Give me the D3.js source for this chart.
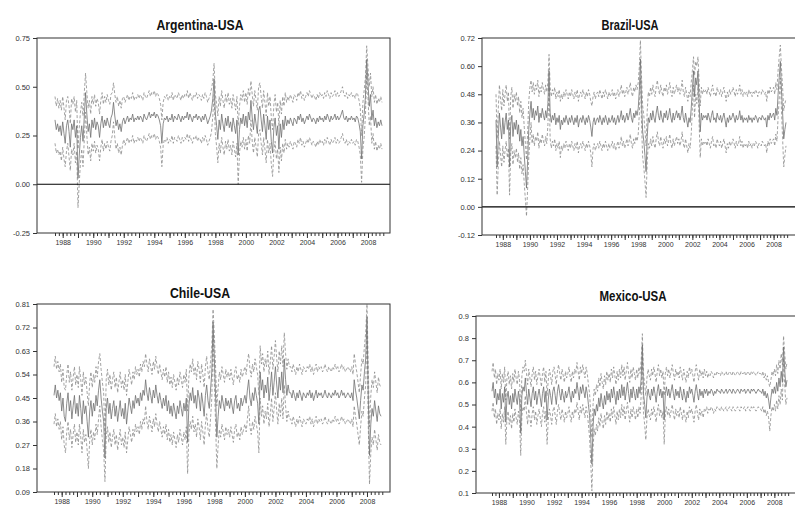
<!DOCTYPE html>
<html>
<head>
<meta charset="utf-8">
<script src="https://cdn.jsdelivr.net/npm/d3@7"></script>
<style>
  body { margin: 0; background: #fff; }
  svg { display: block; }
  .title { font-family: "Liberation Sans", Arial, sans-serif; font-weight: bold; font-size: 15px; fill: #111; }
</style>
</head>
<body>
<div id="chart"></div>
<script>
// monthly observations 1987M07 .. 2008M12, one line per year
const months = d3.timeMonth.range(new Date(1987, 6, 1), new Date(2009, 0, 1));

// Argentina-USA: estimate (solid) and half width of the band (dashed = mid +/- half)
const argMid = [
  .33,.28,.31,.27,.30,.25,
  .32,.26,.21,.30,.33,.27,.19,.31,.28,.33,.24,.30,
  .03,.15,.24,.30,.22,.35,.47,.36,.27,.31,.24,.33,
  .29,.34,.28,.32,.30,.24,.31,.35,.29,.33,.30,.34,
  .31,.29,.34,.36,.42,.35,.30,.33,.28,.31,.27,.32,
  .34,.31,.33,.35,.32,.34,.33,.36,.32,.34,.33,.35,
  .33,.35,.34,.32,.36,.34,.33,.35,.37,.34,.36,.35,
  .37,.34,.36,.35,.33,.30,.21,.31,.34,.33,.35,.32,
  .34,.33,.36,.32,.35,.34,.33,.36,.34,.32,.35,.33,
  .35,.34,.37,.33,.36,.34,.32,.35,.34,.36,.33,.35,
  .34,.32,.35,.33,.36,.34,.31,.33,.35,.38,.44,.54,
  .36,.30,.23,.33,.28,.36,.31,.27,.34,.30,.35,.29,
  .32,.27,.34,.30,.26,.33,.15,.28,.34,.31,.36,.30,
  .35,.29,.37,.33,.43,.34,.28,.36,.31,.26,.38,.40,
  .33,.27,.36,.30,.23,.35,.28,.33,.22,.16,.29,.34,
  .25,.30,.18,.31,.24,.33,.28,.35,.30,.33,.31,.34,
  .32,.30,.34,.33,.31,.35,.33,.36,.32,.34,.31,.33,
  .35,.33,.36,.34,.32,.34,.33,.31,.34,.32,.35,.33,
  .34,.32,.35,.33,.36,.34,.32,.35,.33,.34,.36,.33,
  .35,.33,.34,.36,.38,.34,.33,.35,.32,.34,.33,.35,
  .33,.34,.32,.35,.34,.31,.27,.13,.30,.36,.45,.64,
  .52,.40,.46,.33,.38,.30,.34,.29,.32,.30,.33,.30
];
const argHalf = [
  .12,.12,.13,.12,.13,.13,
  .13,.13,.12,.13,.12,.13,.12,.13,.13,.12,.13,.13,
  .15,.14,.13,.12,.13,.12,.10,.11,.12,.12,.12,.12,
  .12,.12,.12,.12,.12,.12,.12,.12,.12,.12,.12,.12,
  .12,.12,.12,.11,.10,.11,.12,.12,.12,.12,.12,.12,
  .11,.11,.11,.11,.11,.11,.11,.11,.11,.11,.11,.11,
  .11,.11,.11,.11,.11,.11,.11,.11,.11,.11,.11,.11,
  .11,.11,.11,.11,.11,.11,.12,.11,.11,.11,.11,.11,
  .11,.11,.11,.11,.11,.11,.11,.11,.11,.11,.11,.11,
  .11,.11,.11,.11,.11,.11,.11,.11,.11,.11,.11,.11,
  .11,.11,.11,.11,.11,.11,.11,.11,.11,.11,.09,.08,
  .10,.11,.12,.12,.12,.12,.12,.12,.12,.12,.12,.12,
  .12,.12,.12,.12,.12,.12,.15,.12,.12,.12,.12,.12,
  .12,.12,.12,.12,.10,.12,.12,.12,.12,.12,.12,.12,
  .12,.12,.12,.12,.12,.12,.12,.12,.12,.12,.12,.12,
  .12,.12,.12,.12,.12,.12,.12,.12,.12,.12,.12,.12,
  .12,.12,.12,.12,.12,.12,.12,.12,.12,.12,.12,.12,
  .12,.12,.12,.12,.12,.12,.12,.12,.12,.12,.12,.12,
  .12,.12,.12,.12,.12,.12,.12,.12,.12,.12,.12,.12,
  .12,.12,.12,.12,.12,.12,.12,.12,.12,.12,.12,.12,
  .12,.12,.12,.12,.12,.12,.12,.12,.12,.12,.10,.07,
  .08,.10,.11,.12,.12,.12,.12,.12,.12,.12,.12,.12
];

// Brazil-USA
const braMid = [
  .37,.17,.30,.40,.34,.29,
  .38,.31,.36,.40,.33,.37,.17,.35,.39,.30,.36,.33,
  .37,.31,.35,.28,.33,.26,.30,.22,.15,.08,.20,.33,
  .40,.45,.38,.42,.37,.41,.39,.43,.36,.40,.38,.42,
  .39,.37,.41,.38,.44,.58,.40,.36,.39,.37,.40,.35,
  .38,.36,.39,.33,.37,.35,.38,.36,.39,.37,.35,.38,
  .36,.39,.37,.35,.38,.36,.39,.34,.37,.38,.36,.39,
  .37,.35,.38,.36,.39,.37,.34,.30,.36,.38,.35,.37,
  .38,.36,.39,.37,.35,.38,.36,.39,.37,.35,.38,.36,
  .37,.39,.36,.38,.35,.37,.39,.36,.38,.41,.37,.39,
  .36,.38,.40,.37,.39,.42,.38,.36,.40,.38,.41,.39,
  .42,.50,.63,.45,.32,.28,.22,.15,.30,.38,.36,.40,
  .37,.41,.38,.36,.40,.43,.39,.37,.41,.38,.36,.40,
  .38,.41,.37,.39,.42,.38,.36,.40,.37,.39,.41,.38,
  .40,.37,.39,.43,.38,.36,.40,.37,.34,.38,.36,.42,
  .50,.58,.47,.55,.52,.58,.45,.32,.40,.37,.39,.38,
  .39,.37,.40,.38,.36,.39,.41,.37,.38,.36,.40,.38,
  .37,.39,.36,.38,.40,.37,.34,.38,.36,.39,.37,.38,
  .40,.38,.36,.39,.37,.38,.41,.37,.39,.36,.38,.37,
  .38,.36,.39,.37,.38,.36,.38,.37,.39,.38,.36,.38,
  .38,.37,.39,.38,.37,.38,.34,.39,.37,.40,.38,.39,
  .40,.37,.42,.39,.48,.55,.62,.50,.40,.29,.33,.36
];
const braHalf = [
  .11,.12,.12,.12,.12,.12,
  .12,.12,.12,.12,.12,.12,.12,.12,.12,.12,.12,.12,
  .12,.12,.12,.12,.12,.12,.12,.12,.12,.12,.12,.12,
  .11,.09,.11,.11,.11,.11,.11,.11,.11,.11,.11,.11,
  .11,.11,.11,.11,.09,.07,.11,.11,.11,.11,.11,.11,
  .11,.11,.11,.12,.11,.11,.11,.11,.11,.11,.11,.11,
  .11,.11,.11,.11,.11,.11,.11,.11,.11,.11,.11,.11,
  .11,.11,.11,.11,.11,.11,.11,.13,.11,.11,.11,.11,
  .11,.11,.11,.11,.11,.11,.11,.11,.11,.11,.11,.11,
  .11,.11,.11,.11,.11,.11,.11,.11,.11,.11,.11,.11,
  .11,.11,.11,.11,.11,.11,.11,.11,.11,.11,.11,.11,
  .11,.10,.08,.10,.11,.11,.11,.11,.11,.11,.11,.11,
  .11,.11,.11,.11,.11,.11,.11,.11,.11,.11,.11,.11,
  .11,.11,.11,.11,.11,.11,.11,.11,.11,.11,.11,.11,
  .11,.11,.11,.11,.11,.11,.11,.11,.11,.11,.11,.11,
  .08,.06,.09,.07,.08,.06,.09,.11,.11,.11,.11,.11,
  .11,.11,.11,.11,.11,.11,.11,.11,.11,.11,.11,.11,
  .11,.11,.11,.11,.11,.11,.11,.11,.11,.11,.11,.11,
  .11,.11,.11,.11,.11,.11,.11,.11,.11,.11,.11,.11,
  .11,.11,.11,.11,.11,.11,.11,.11,.11,.11,.11,.11,
  .11,.11,.11,.11,.11,.11,.11,.11,.11,.11,.11,.11,
  .11,.11,.11,.11,.10,.09,.07,.09,.11,.12,.11,.10
];

// Chile-USA
const chlMid = [
  .46,.50,.45,.48,.44,.47,
  .40,.45,.38,.36,.43,.47,.40,.44,.37,.42,.46,.39,
  .43,.38,.46,.41,.35,.44,.39,.42,.36,.30,.40,.44,
  .38,.43,.40,.46,.42,.48,.52,.45,.40,.36,.22,.41,
  .45,.39,.43,.37,.41,.44,.38,.42,.36,.40,.44,.38,
  .41,.37,.43,.35,.40,.45,.42,.39,.44,.41,.46,.43,
  .45,.42,.47,.44,.48,.46,.52,.47,.44,.49,.46,.43,
  .48,.45,.50,.46,.43,.47,.44,.41,.45,.42,.46,.40,
  .44,.39,.42,.38,.43,.40,.37,.42,.39,.44,.41,.38,
  .43,.40,.45,.28,.42,.47,.44,.49,.43,.46,.41,.48,
  .45,.40,.47,.43,.38,.46,.50,.44,.41,.48,.55,.74,
  .60,.45,.30,.38,.44,.41,.46,.43,.40,.45,.42,.44,
  .41,.45,.42,.39,.44,.46,.41,.43,.40,.45,.42,.44,
  .46,.43,.48,.52,.45,.42,.47,.44,.49,.46,.43,.35,
  .55,.48,.52,.45,.50,.47,.53,.44,.49,.55,.46,.51,
  .57,.50,.45,.53,.48,.55,.47,.60,.52,.46,.50,.47,
  .47,.45,.48,.46,.44,.47,.45,.48,.46,.44,.47,.46,
  .45,.47,.46,.48,.45,.47,.44,.46,.48,.45,.47,.46,
  .47,.45,.46,.48,.46,.45,.47,.46,.45,.47,.46,.48,
  .46,.47,.45,.46,.48,.46,.47,.45,.46,.47,.46,.45,
  .47,.44,.52,.48,.45,.41,.37,.44,.50,.48,.55,.60,
  .76,.45,.23,.35,.41,.38,.44,.40,.36,.42,.39,.38
];
const chlHalf = [
  .11,.11,.11,.11,.11,.11,
  .11,.11,.11,.12,.11,.11,.11,.11,.11,.11,.11,.11,
  .11,.11,.11,.11,.11,.11,.11,.11,.11,.12,.11,.11,
  .11,.11,.11,.11,.11,.11,.10,.11,.11,.11,.09,.11,
  .11,.11,.11,.11,.11,.11,.11,.11,.11,.11,.11,.11,
  .11,.11,.11,.11,.11,.11,.11,.11,.11,.11,.11,.11,
  .11,.11,.11,.11,.11,.11,.10,.11,.11,.11,.11,.11,
  .11,.11,.11,.11,.11,.11,.11,.11,.11,.11,.11,.11,
  .11,.11,.11,.11,.11,.11,.11,.11,.11,.11,.11,.11,
  .11,.11,.11,.12,.11,.11,.11,.11,.11,.11,.11,.11,
  .11,.11,.11,.11,.11,.11,.11,.11,.11,.11,.10,.05,
  .09,.11,.12,.11,.11,.11,.11,.11,.11,.11,.11,.11,
  .11,.11,.11,.11,.11,.11,.11,.11,.11,.11,.11,.11,
  .11,.11,.11,.10,.11,.11,.11,.11,.11,.11,.11,.11,
  .10,.10,.10,.10,.10,.10,.10,.10,.10,.10,.10,.10,
  .10,.10,.10,.10,.10,.10,.10,.10,.10,.10,.10,.10,
  .10,.10,.10,.10,.10,.10,.10,.10,.10,.10,.10,.10,
  .10,.10,.10,.10,.10,.10,.10,.10,.10,.10,.10,.10,
  .10,.10,.10,.10,.10,.10,.10,.10,.10,.10,.10,.10,
  .10,.10,.10,.10,.10,.10,.10,.10,.10,.10,.10,.10,
  .10,.10,.10,.10,.10,.10,.10,.10,.10,.10,.10,.10,
  .05,.11,.11,.11,.11,.11,.11,.11,.11,.11,.11,.11
];

// Mexico-USA
const mexMid = [
  .56,.60,.53,.57,.50,.55,
  .52,.57,.48,.55,.51,.58,.42,.53,.56,.50,.54,.48,
  .55,.51,.57,.53,.50,.56,.52,.37,.54,.58,.56,.62,
  .55,.50,.57,.53,.49,.55,.58,.52,.56,.50,.54,.57,
  .53,.49,.55,.58,.51,.56,.43,.52,.57,.54,.50,.56,
  .58,.54,.50,.56,.59,.55,.52,.57,.54,.51,.56,.53,
  .55,.58,.54,.51,.56,.53,.57,.55,.60,.56,.52,.58,
  .55,.59,.56,.53,.58,.55,.50,.45,.35,.23,.40,.48,
  .45,.50,.47,.53,.49,.55,.51,.48,.54,.50,.56,.52,
  .55,.51,.57,.53,.58,.54,.50,.56,.52,.57,.53,.59,
  .54,.58,.52,.56,.60,.55,.51,.57,.53,.58,.55,.52,
  .57,.53,.58,.55,.62,.77,.55,.50,.44,.53,.57,.54,
  .52,.57,.54,.58,.55,.51,.56,.59,.54,.57,.53,.56,
  .43,.55,.58,.54,.57,.53,.56,.59,.55,.52,.57,.54,
  .56,.53,.58,.55,.52,.57,.54,.51,.56,.53,.58,.55,
  .57,.54,.51,.56,.59,.55,.52,.57,.54,.56,.53,.57,
  .55,.57,.54,.56,.55,.57,.56,.54,.56,.55,.57,.56,
  .56,.55,.57,.56,.55,.56,.57,.55,.56,.57,.56,.55,
  .57,.56,.55,.56,.57,.56,.55,.57,.56,.56,.57,.55,
  .56,.57,.56,.55,.57,.56,.57,.56,.55,.56,.57,.56,
  .56,.55,.57,.54,.56,.53,.55,.52,.48,.53,.57,.55,
  .58,.55,.60,.56,.62,.58,.65,.60,.76,.66,.58,.61
];
const mexHalf = [
  .09,.09,.09,.09,.09,.09,
  .09,.09,.09,.09,.09,.09,.10,.09,.09,.09,.09,.09,
  .09,.09,.09,.09,.09,.09,.09,.10,.09,.09,.09,.08,
  .09,.09,.09,.09,.09,.09,.09,.09,.09,.09,.09,.09,
  .09,.09,.09,.09,.09,.09,.11,.09,.09,.09,.09,.09,
  .09,.09,.09,.09,.09,.09,.09,.09,.09,.09,.09,.09,
  .09,.09,.09,.09,.09,.09,.09,.09,.09,.09,.09,.09,
  .09,.09,.09,.09,.09,.09,.09,.10,.11,.12,.10,.09,
  .09,.09,.09,.09,.09,.09,.09,.09,.09,.09,.09,.09,
  .09,.09,.09,.09,.09,.09,.09,.09,.09,.09,.09,.09,
  .09,.09,.09,.09,.09,.09,.09,.09,.09,.09,.09,.09,
  .09,.09,.09,.09,.08,.05,.09,.09,.10,.09,.09,.09,
  .09,.09,.09,.09,.09,.09,.09,.09,.09,.09,.09,.09,
  .11,.09,.09,.09,.09,.09,.09,.09,.09,.09,.09,.09,
  .09,.09,.09,.09,.09,.09,.09,.09,.09,.09,.09,.09,
  .09,.09,.09,.09,.09,.09,.09,.09,.09,.09,.09,.09,
  .08,.08,.08,.08,.08,.08,.08,.08,.08,.08,.08,.08,
  .08,.08,.08,.08,.08,.08,.08,.08,.08,.08,.08,.08,
  .08,.08,.08,.08,.08,.08,.08,.08,.08,.08,.08,.08,
  .08,.08,.08,.08,.08,.08,.08,.08,.08,.08,.08,.08,
  .08,.08,.08,.08,.08,.08,.08,.08,.10,.08,.08,.08,
  .08,.08,.08,.08,.08,.08,.08,.08,.05,.07,.08,.08
];

// y tick labels of each panel
const argTicks = [-0.25, 0, 0.25, 0.50, 0.75];
const braTicks = [-0.12, 0, 0.12, 0.24, 0.36, 0.48, 0.60, 0.72];
const chlTicks = [0.09, 0.18, 0.27, 0.36, 0.45, 0.54, 0.63, 0.72, 0.81];
const mexTicks = [0.1, 0.2, 0.3, 0.4, 0.5, 0.6, 0.7, 0.8, 0.9];

const panels = [
  { title: "Argentina-USA", mid: argMid, half: argHalf, ticks: argTicks, fmt: ".2f",
    box: [37, 38, 390, 233], span: [55, 382], tx: 200, ty: 30, tw: 87, zero: true },
  { title: "Brazil-USA", mid: braMid, half: braHalf, ticks: braTicks, fmt: ".2f",
    box: [482, 38, 840, 235], span: [496, 786], tx: 630, ty: 30, tw: 57, zero: true },
  { title: "Chile-USA", mid: chlMid, half: chlHalf, ticks: chlTicks, fmt: ".2f",
    box: [37, 304, 390, 492], span: [54, 381], tx: 200, ty: 298, tw: 60, zero: false },
  { title: "Mexico-USA", mid: mexMid, half: mexHalf, ticks: mexTicks, fmt: ".1f",
    box: [476, 316, 840, 493], span: [492, 787], tx: 633, ty: 301, tw: 67, zero: false }
];

const quarters = d3.timeMonth.every(3).range(new Date(1987, 6, 1), new Date(2009, 0, 2));
const years = d3.timeYear.range(new Date(1988, 0, 1), new Date(2009, 0, 1));
const tickFont = "'Liberation Sans', Arial, sans-serif";

const svg = d3.select("#chart").append("svg")
    .attr("width", 795)
    .attr("height", 507);

panels.forEach(function(p) {
  const [x0, y0, x1, y1] = p.box;
  const x = d3.scaleTime()
      .domain([months[0], months[months.length - 1]])
      .range(p.span);
  const y = d3.scaleLinear()
      .domain(d3.extent(p.ticks))
      .range([y1, y0]);
  const fmt = d3.format(p.fmt);

  const g = svg.append("g");

  g.append("text")
      .attr("class", "title")
      .attr("x", p.tx)
      .attr("y", p.ty)
      .attr("text-anchor", "middle")
      .attr("textLength", p.tw)
      .attr("lengthAdjust", "spacingAndGlyphs")
      .text(p.title);

  // y axis
  g.append("g")
      .attr("transform", "translate(" + x0 + ",0)")
      .call(d3.axisLeft(y).tickValues(p.ticks).tickSize(4).tickPadding(3)
        .tickFormat(function(d) { return fmt(d).replace("\u2212", "-"); }))
      .call(function(a) { a.select(".domain").remove(); })
      .attr("font-family", tickFont)
      .attr("font-size", 7.5)
      .attr("color", "#333");

  // x axis: quarterly ticks, longer tick at each year, label every second year
  g.append("g")
      .attr("transform", "translate(0," + y1 + ")")
      .call(d3.axisBottom(x).tickValues(quarters).tickSize(3).tickFormat(""))
      .call(function(a) { a.select(".domain").remove(); })
      .attr("color", "#333");

  g.append("g")
      .attr("transform", "translate(0," + y1 + ")")
      .call(d3.axisBottom(x).tickValues(years).tickSize(5).tickPadding(2)
        .tickFormat(function(d) { return d.getFullYear() % 2 === 0 ? d.getFullYear() : ""; }))
      .call(function(a) { a.select(".domain").remove(); })
      .attr("font-family", tickFont)
      .attr("font-size", 7)
      .attr("color", "#333");

  const rows = months.map(function(m, i) {
    return { date: m, mid: p.mid[i], half: p.half[i] };
  });

  const line = function(acc) {
    return d3.line()
        .x(function(d) { return x(d.date); })
        .y(function(d) { return y(acc(d)); });
  };

  g.append("path")
      .datum(rows)
      .attr("fill", "none")
      .attr("stroke", "#8c8c8c")
      .attr("stroke-width", 0.8)
      .attr("stroke-dasharray", "3,2")
      .attr("d", line(function(d) { return d.mid + d.half; }));

  g.append("path")
      .datum(rows)
      .attr("fill", "none")
      .attr("stroke", "#8c8c8c")
      .attr("stroke-width", 0.8)
      .attr("stroke-dasharray", "3,2")
      .attr("d", line(function(d) { return d.mid - d.half; }));

  g.append("path")
      .datum(rows)
      .attr("fill", "none")
      .attr("stroke", "#707070")
      .attr("stroke-width", 0.8)
      .attr("d", line(function(d) { return d.mid; }));

  if (p.zero) {
    g.append("line")
        .attr("x1", x0).attr("x2", x1)
        .attr("y1", y(0)).attr("y2", y(0))
        .attr("stroke", "#000")
        .attr("stroke-width", 1.2);
  }

  // frame
  g.append("rect")
      .attr("x", x0)
      .attr("y", y0)
      .attr("width", x1 - x0)
      .attr("height", y1 - y0)
      .attr("fill", "none")
      .attr("stroke", "#333")
      .attr("stroke-width", 1);
});
</script>
</body>
</html>
